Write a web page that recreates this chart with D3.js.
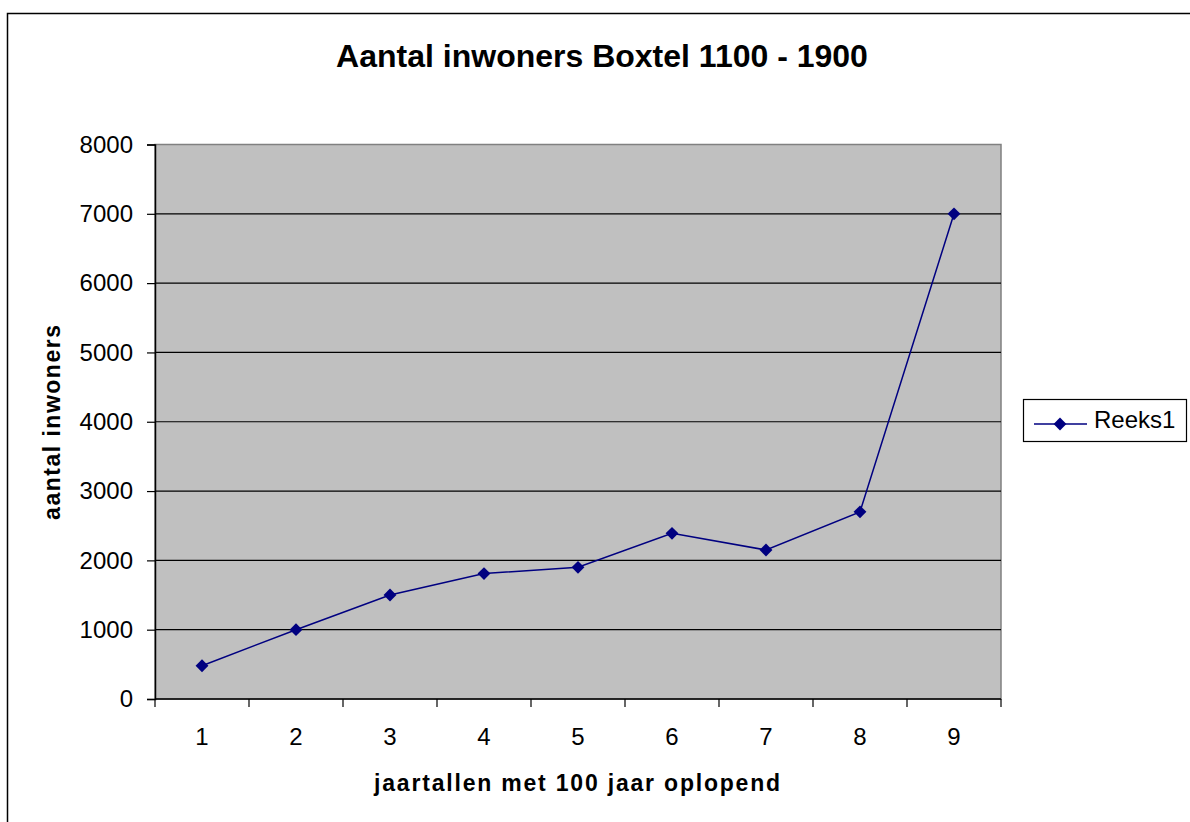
<!DOCTYPE html>
<html>
<head>
<meta charset="utf-8">
<script src="https://cdn.jsdelivr.net/npm/d3@7"></script>
<style>
  body { margin: 0; background: #fff; }
  svg { display: block; font-family: "Liberation Sans", Arial, sans-serif; }
</style>
</head>
<body>
<div id="chart"></div>
<script>
// data
var categories = [1, 2, 3, 4, 5, 6, 7, 8, 9];
var reeks1 = [480, 1000, 1500, 1810, 1900, 2390, 2150, 2700, 7000];
var yTicks = [0, 1000, 2000, 3000, 4000, 5000, 6000, 7000, 8000];
var seriesName = "Reeks1";

var W = 1190, H = 822;
var plot = { left: 155, top: 144.5, right: 1001, bottom: 699 };

var svg = d3.select("#chart").append("svg")
  .attr("width", W)
  .attr("height", H);

// outer chart border
svg.append("rect")
  .attr("x", 7.5).attr("y", 13.5)
  .attr("width", W).attr("height", H)
  .attr("fill", "#fff")
  .attr("stroke", "#000")
  .attr("stroke-width", 1.5);

var x = d3.scaleBand()
  .domain(categories)
  .range([plot.left, plot.right]);

var y = d3.scaleLinear()
  .domain([0, 8000])
  .range([plot.bottom, plot.top]);

// plot area
svg.append("rect")
  .attr("x", plot.left).attr("y", plot.top)
  .attr("width", plot.right - plot.left)
  .attr("height", plot.bottom - plot.top)
  .attr("fill", "#c0c0c0")
  .attr("stroke", "#808080")
  .attr("stroke-width", 1.5);

// gridlines
svg.append("g")
  .selectAll("line")
  .data(yTicks.filter(function (d) { return d > 0 && d < 8000; }))
  .enter()
  .append("line")
  .attr("x1", plot.left).attr("x2", plot.right)
  .attr("y1", function (d) { return y(d); })
  .attr("y2", function (d) { return y(d); })
  .attr("stroke", "#000")
  .attr("stroke-width", 1.2);

// Y axis
var yAxis = svg.append("g")
  .attr("transform", "translate(" + plot.left + ",0)")
  .call(d3.axisLeft(y).tickValues(yTicks).tickFormat(d3.format("d")).tickSize(8).tickPadding(14));
yAxis.select(".domain").attr("stroke", "#000").attr("stroke-width", 1.5);
yAxis.selectAll(".tick line").attr("stroke", "#000").attr("stroke-width", 1.2);
yAxis.selectAll("text")
  .style("font-size", "24px")
  .style("font-family", "Liberation Sans, Arial, sans-serif")
  .attr("fill", "#000");

// X axis (ticks at category boundaries)
var bounds = categories.map(function (c) { return x(c); }).concat([plot.right]);
var xg = svg.append("g");
xg.append("line")
  .attr("x1", plot.left).attr("x2", plot.right)
  .attr("y1", plot.bottom).attr("y2", plot.bottom)
  .attr("stroke", "#000").attr("stroke-width", 1.5);
xg.selectAll("line.tk")
  .data(bounds)
  .enter()
  .append("line")
  .attr("class", "tk")
  .attr("x1", function (d) { return d; })
  .attr("x2", function (d) { return d; })
  .attr("y1", plot.bottom).attr("y2", plot.bottom + 8)
  .attr("stroke", "#000").attr("stroke-width", 1.2);
xg.selectAll("text")
  .data(categories)
  .enter()
  .append("text")
  .attr("x", function (d) { return x(d) + x.bandwidth() / 2; })
  .attr("y", plot.bottom + 46)
  .attr("text-anchor", "middle")
  .style("font-size", "24px")
  .text(function (d) { return d; });

// the line
var cx = function (d, i) { return x(categories[i]) + x.bandwidth() / 2; };
var line = d3.line()
  .x(cx)
  .y(function (d) { return y(d); });
svg.append("path")
  .datum(reeks1)
  .attr("d", line)
  .attr("fill", "none")
  .attr("stroke", "#000080")
  .attr("stroke-width", 1.5);

// diamond markers
var diamond = d3.symbol().type(d3.symbolDiamond2).size(105);
svg.selectAll("path.pt")
  .data(reeks1)
  .enter()
  .append("path")
  .attr("class", "pt")
  .attr("d", diamond)
  .attr("transform", function (d, i) { return "translate(" + cx(d, i) + "," + y(d) + ")"; })
  .attr("fill", "#000080");

// title
svg.append("text")
  .attr("x", 602).attr("y", 67)
  .attr("text-anchor", "middle")
  .style("font-size", "32px")
  .style("font-weight", "bold")
  .text("Aantal inwoners Boxtel 1100 - 1900");

// axis titles
svg.append("text")
  .attr("x", (plot.left + plot.right) / 2).attr("y", 791)
  .attr("text-anchor", "middle")
  .style("font-size", "23px")
  .style("font-weight", "bold")
  .style("letter-spacing", "1.8px")
  .text("jaartallen met 100 jaar oplopend");

svg.append("text")
  .attr("transform", "translate(60," + (plot.top + plot.bottom) / 2 + ") rotate(-90)")
  .attr("text-anchor", "middle")
  .style("font-size", "23px")
  .style("font-weight", "bold")
  .style("letter-spacing", "1.5px")
  .text("aantal inwoners");

// legend
var lg = svg.append("g");
lg.append("rect")
  .attr("x", 1023.5).attr("y", 399.5)
  .attr("width", 163).attr("height", 42)
  .attr("fill", "#fff")
  .attr("stroke", "#000")
  .attr("stroke-width", 1.2);
lg.append("line")
  .attr("x1", 1034).attr("x2", 1087)
  .attr("y1", 424).attr("y2", 424)
  .attr("stroke", "#000080").attr("stroke-width", 1.5);
lg.append("path")
  .attr("d", diamond)
  .attr("transform", "translate(1060,424)")
  .attr("fill", "#000080");
lg.append("text")
  .attr("x", 1094).attr("y", 428)
  .style("font-size", "24px")
  .text(seriesName);
</script>
</body>
</html>
